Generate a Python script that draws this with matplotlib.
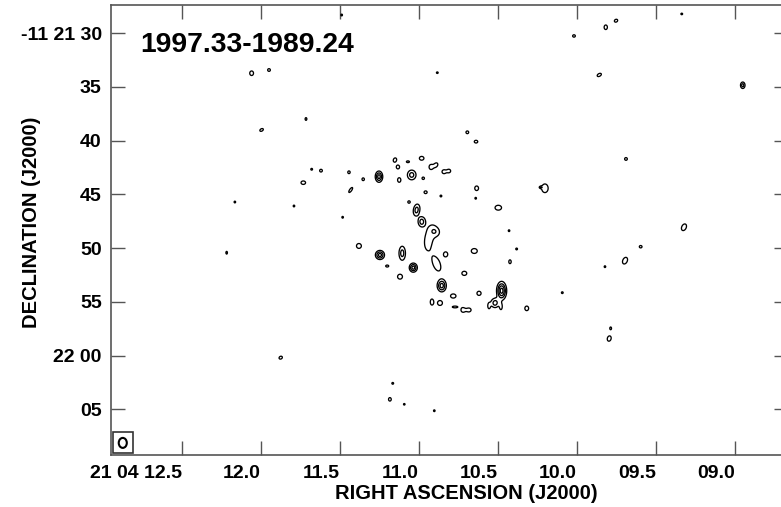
import numpy as np
import matplotlib
matplotlib.use("Agg")
import matplotlib.pyplot as plt
from matplotlib.patches import Rectangle, Ellipse

plt.rcParams['font.family'] = ['Liberation Sans', 'DejaVu Sans']
plt.rcParams['font.weight'] = 'bold'

# map limits: RA seconds (21h04m) and Dec arcsec south of -11 21 00
ra_lim = (12.951, 8.665)
dec_lim = (69.26, 27.365)

# axis ticks
ra_ticks = [12.5, 12.0, 11.5, 11.0, 10.5, 10.0, 9.5, 9.0]
ra_labels = ['21 04 12.5', '12.0', '11.5', '11.0', '10.5', '10.0', '09.5', '09.0']
dec_ticks = [30, 35, 40, 45, 50, 55, 60, 65]
dec_labels = ['-11 21 30', '35', '40', '45', '50', '55', '22 00', '05']

# difference-image components
# ra (s), dec (arcsec), outer width / height (arcsec), number of contours, tilt (deg)
src_ra = [12.059, 11.949, 11.715, 11.996, 11.489, 10.884, 10.694, 10.639,
          10.019, 9.818, 9.753, 9.337, 9.859, 8.951, 9.690, 9.323,
          9.597, 9.696, 9.823, 10.093, 9.787, 9.796, 11.875, 11.166,
          11.184, 11.093, 10.903, 12.165, 11.791, 12.217, 10.203, 10.228,
          11.679, 11.620, 11.732, 11.443, 11.432, 11.353, 11.253, 11.152,
          11.133, 11.070, 10.983, 10.924, 10.892, 10.842, 10.810, 11.125,
          11.046, 10.973, 10.958, 10.861, 11.063, 11.483, 11.015, 10.983,
          10.937, 10.895, 10.635, 10.641, 10.498, 10.430, 10.382, 10.424,
          11.380, 11.247, 11.106, 11.201, 11.120, 11.036, 10.888, 10.831,
          10.650, 10.713, 10.856, 10.783, 10.620, 10.477, 10.918, 10.867,
          10.772, 10.722, 10.684, 10.519, 10.557, 10.481, 10.318]
src_dec = [33.72, 33.42, 37.98, 39.00, 28.30, 33.67, 39.22, 40.09,
           30.25, 29.44, 28.83, 28.20, 33.88, 34.84, 41.70, 48.06,
           49.87, 51.17, 51.73, 54.15, 57.47, 58.42, 60.20, 62.59,
           64.08, 64.54, 65.14, 45.71, 46.08, 50.43, 44.43, 44.34,
           42.66, 42.79, 43.91, 42.94, 44.59, 43.59, 43.35, 41.80,
           42.45, 41.96, 41.64, 42.45, 42.26, 42.89, 42.82, 43.66,
           43.19, 43.50, 44.80, 45.15, 45.71, 47.13, 46.45, 47.54,
           49.10, 48.45, 44.43, 45.36, 46.24, 48.38, 50.08, 51.27,
           49.80, 50.64, 50.48, 51.67, 52.66, 51.82, 51.48, 50.58,
           50.27, 52.35, 53.50, 54.46, 54.21, 53.97, 55.02, 55.11,
           55.48, 55.76, 55.76, 55.11, 55.39, 55.48, 55.61]
src_w = [0.35, 0.25, 0.16, 0.35, 0.14, 0.16, 0.25, 0.32,
         0.25, 0.30, 0.32, 0.16, 0.42, 0.42, 0.25, 0.42,
         0.25, 0.42, 0.14, 0.16, 0.16, 0.35, 0.32, 0.16,
         0.25, 0.14, 0.14, 0.14, 0.14, 0.14, 0.60, 0.20,
         0.16, 0.25, 0.42, 0.22, 0.20, 0.22, 0.70, 0.30,
         0.30, 0.28, 0.42, 0.35, 0.30, 0.35, 0.30, 0.30,
         0.80, 0.22, 0.28, 0.16, 0.22, 0.14, 0.60, 0.65,
         0.75, 0.55, 0.35, 0.14, 0.60, 0.14, 0.16, 0.22,
         0.45, 0.85, 0.60, 0.28, 0.45, 0.75, 0.65, 0.38,
         0.55, 0.45, 0.85, 0.50, 0.38, 0.95, 0.30, 0.45,
         0.50, 0.35, 0.40, 0.75, 0.20, 0.20, 0.35]
src_h = [0.42, 0.25, 0.25, 0.22, 0.16, 0.14, 0.25, 0.25,
         0.22, 0.42, 0.25, 0.14, 0.25, 0.60, 0.25, 0.65,
         0.22, 0.65, 0.16, 0.16, 0.25, 0.50, 0.25, 0.16,
         0.32, 0.14, 0.16, 0.16, 0.16, 0.25, 0.80, 0.12,
         0.16, 0.25, 0.32, 0.25, 0.55, 0.25, 1.05, 0.40,
         0.35, 0.16, 0.35, 0.45, 0.40, 0.35, 0.30, 0.42,
         0.90, 0.22, 0.25, 0.16, 0.22, 0.16, 1.10, 0.90,
         1.90, 0.65, 0.42, 0.16, 0.45, 0.16, 0.16, 0.35,
         0.45, 0.85, 1.30, 0.18, 0.45, 0.85, 1.35, 0.45,
         0.45, 0.38, 1.15, 0.38, 0.38, 1.75, 0.55, 0.45,
         0.16, 0.40, 0.35, 0.85, 0.45, 0.45, 0.42]
src_nlev = [1, 1, 1, 1, 1, 1, 1, 1,
            1, 1, 1, 1, 1, 2, 1, 1,
            1, 1, 1, 1, 1, 1, 1, 1,
            1, 1, 1, 1, 1, 1, 1, 1,
            1, 1, 1, 1, 1, 1, 3, 1,
            1, 1, 1, 1, 1, 1, 1, 1,
            2, 1, 1, 1, 1, 1, 2, 2,
            1, 1, 1, 1, 1, 1, 1, 1,
            1, 3, 2, 1, 1, 3, 1, 1,
            1, 1, 3, 1, 1, 4, 1, 1,
            1, 1, 1, 2, 1, 1, 1]
src_tilt = [0, 0, 0, -30, 0, 0, 0, 0,
            0, 0, -30, 0, -30, 0, 0, 25,
            0, 25, 0, 0, 0, 15, -30, 0,
            0, 0, 0, 0, 0, 0, 0, 0,
            0, 0, 0, 0, 35, 0, 0, 20,
            0, 0, 0, 0, 30, 0, 0, 0,
            0, 0, 0, 0, 0, 0, 10, 0,
            10, -40, 0, 0, 0, 0, 0, 0,
            0, 0, 0, 0, 0, 0, -20, 0,
            0, 0, 0, 0, 0, 0, 0, 0,
            0, 0, 0, 0, 0, 0, 0]

levels = [1, 2, 3, 4]

# restoring beam (arcsec)
beam_major = 0.93
beam_minor = 0.75
beam_pa = 0

# build the map
arcsec_per_s = 15 * np.cos(np.radians(11.36))
step = 0.03
nx = int((ra_lim[0] - ra_lim[1]) * arcsec_per_s / step)
ny = int((dec_lim[0] - dec_lim[1]) / step)
xs = np.linspace(ra_lim[1], ra_lim[0], nx)
ys = np.linspace(dec_lim[1], dec_lim[0], ny)
img = np.zeros((ny, nx))

for i in range(len(src_ra)):
    peak = src_nlev[i] + 0.45
    f = np.sqrt(2 * np.log(peak))
    sa = max(src_h[i], 0.12) / 2 / f
    sb = max(src_w[i], 0.12) / 2 / f
    r = 4 * max(sa, sb)
    i0 = np.searchsorted(xs, src_ra[i] - r / arcsec_per_s)
    i1 = np.searchsorted(xs, src_ra[i] + r / arcsec_per_s)
    j0 = np.searchsorted(ys, src_dec[i] - r)
    j1 = np.searchsorted(ys, src_dec[i] + r)
    X, Y = np.meshgrid(xs[i0:i1], ys[j0:j1])
    u = (src_ra[i] - X) * arcsec_per_s
    v = Y - src_dec[i]
    th = np.radians(src_tilt[i])
    a = u * np.sin(th) - v * np.cos(th)
    b = u * np.cos(th) + v * np.sin(th)
    img[j0:j1, i0:i1] += peak * np.exp(-(a**2 / (2 * sa**2) + b**2 / (2 * sb**2)))

fig = plt.figure(figsize=(7.81, 5.07), dpi=100)
ax = fig.add_axes([0.1417, 0.1026, 0.8672, 0.8876])

ax.contour(xs, ys, img, levels=levels, colors='black', linewidths=0.95)

ax.set_xlim(ra_lim)
ax.set_ylim(dec_lim)

# beam in a box at lower left
bw = 1.9 / arcsec_per_s
bh = 1.95
bx = ra_lim[0] - 0.012
by = dec_lim[0] - 0.15
ax.add_patch(Rectangle((bx - bw, by - bh), bw, bh, fill=False,
                       edgecolor='#333333', lw=1.2))
ax.add_patch(Ellipse((bx - bw / 2, by - bh / 2), beam_minor / arcsec_per_s,
                     beam_major, angle=beam_pa, fill=False,
                     edgecolor='black', lw=1.5))

ax.set_xticks(ra_ticks)
ax.set_xticklabels(ra_labels, ha='right')
ax.set_yticks(dec_ticks)
ax.set_yticklabels(dec_labels)
ax.tick_params(direction='in', length=10, width=1.0, color='#555555',
               top=True, right=True, labelsize=14)
ax.tick_params(axis='x', pad=7)
ax.tick_params(axis='y', pad=6.5)
for sp in ax.spines.values():
    sp.set_color('#555555')
    sp.set_linewidth(1.2)

ax.set_xlabel('RIGHT ASCENSION (J2000)', fontsize=14.5, fontweight='bold')
ax.xaxis.set_label_coords(0.525, -0.098)
ax.xaxis.label.set_va('baseline')
ax.set_ylabel('DECLINATION (J2000)', fontsize=14.5, fontweight='bold')
ax.yaxis.set_label_coords(-0.103, 0.516)

ax.text(0.0433, 0.896, '1997.33-1989.24', transform=ax.transAxes,
        fontsize=20.3, fontweight='bold', va='baseline', ha='left')

fig.savefig('out.png', dpi=100)
